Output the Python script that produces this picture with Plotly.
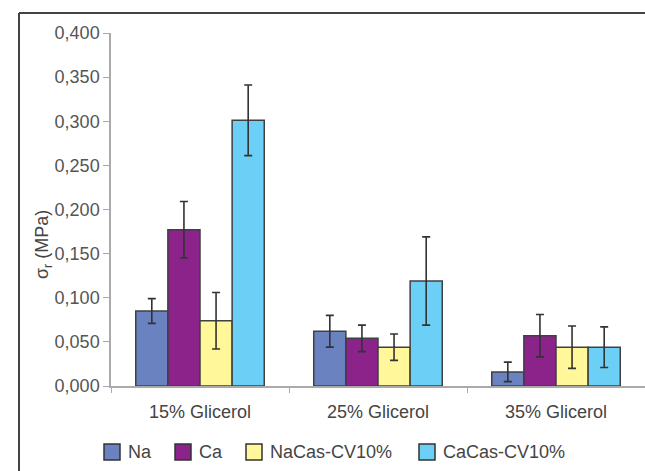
import plotly.graph_objects as go

# Tensile strength (MPa) of films by glycerol content
categories = ["15% Glicerol", "25% Glicerol", "35% Glicerol"]
series_names = ["Na", "Ca", "NaCas-CV10%", "CaCas-CV10%"]
na = [0.085, 0.062, 0.016]
na_err = [0.014, 0.018, 0.011]
ca = [0.177, 0.054, 0.057]
ca_err = [0.032, 0.015, 0.024]
nacas = [0.074, 0.044, 0.044]
nacas_err = [0.032, 0.015, 0.024]
cacas = [0.301, 0.119, 0.044]
cacas_err = [0.040, 0.050, 0.023]

values = [na, ca, nacas, cacas]
errors = [na_err, ca_err, nacas_err, cacas_err]
colors = ["#6b82c0", "#8c238a", "#fff799", "#6ccff5"]

W, H = 645, 471
ML, MR, MT, MB = 111, 0, 33, 85
PW, PH = W - ML - MR, H - MT - MB
FONT = "Liberation Sans, Arial, Helvetica, sans-serif"


def px_x(x):
    return (x - ML) / PW


def px_y(y):
    return (H - MB - y) / PH


fig = go.Figure()
for name, vals, errs, col in zip(series_names, values, errors, colors):
    fig.add_trace(go.Bar(
        name=name, x=categories, y=vals,
        marker=dict(color=col, line=dict(color="#404040", width=1.5)),
        error_y=dict(type="data", array=errs, visible=True,
                     color="#333333", thickness=1.6, width=4),
        showlegend=False,
    ))

# Frame lines on left and top
shapes = [
    dict(type="line", xref="paper", yref="paper",
         x0=px_x(19), x1=px_x(19), y0=px_y(13), y1=px_y(H),
         line=dict(color="#444444", width=2)),
    dict(type="line", xref="paper", yref="paper",
         x0=px_x(19), x1=px_x(W), y0=px_y(13), y1=px_y(13),
         line=dict(color="#444444", width=2)),
]

annotations = [
    dict(text="σ<sub>r</sub> (MPa)", xref="paper", yref="paper",
         x=px_x(44), y=px_y(245), textangle=-90, showarrow=False,
         font=dict(family=FONT, size=18, color="#444444"),
         xanchor="center", yanchor="middle"),
]

# Legend row below the axis
legend_box_x = [104, 175, 246, 419]
legend_y = 452
for name, col, bx in zip(series_names, colors, legend_box_x):
    shapes.append(dict(type="rect", xref="paper", yref="paper",
                       x0=px_x(bx), x1=px_x(bx + 16),
                       y0=px_y(legend_y - 8), y1=px_y(legend_y + 8),
                       fillcolor=col, line=dict(color="#333333", width=1.5)))
    annotations.append(dict(text=name, xref="paper", yref="paper",
                            x=px_x(bx + 22), y=px_y(legend_y),
                            xanchor="left", yanchor="middle", showarrow=False,
                            font=dict(family=FONT, size=18, color="#444444")))

fig.update_layout(
    width=W, height=H,
    margin=dict(l=ML, r=MR, t=MT, b=MB),
    paper_bgcolor="white", plot_bgcolor="white",
    barmode="group", bargap=0.278, bargroupgap=0,
    separators=", ",
    font=dict(family=FONT, color="#555555"),
    shapes=shapes, annotations=annotations,
    xaxis=dict(type="category", tickson="boundaries", ticks="outside",
               ticklen=5, tickcolor="#aaaaaa", showline=True,
               linecolor="#aaaaaa", linewidth=1.5, showgrid=False,
               tickfont=dict(family=FONT, size=18, color="#444444"),
               ticklabelstandoff=9),
    yaxis=dict(range=[0, 0.4], dtick=0.05, tickformat=".3f",
               ticks="outside", ticklen=6, tickcolor="#aaaaaa",
               showline=True, linecolor="#aaaaaa", linewidth=1.5,
               showgrid=False, zeroline=False,
               tickfont=dict(family=FONT, size=18, color="#555555")),
)

fig.write_html("out.html")
